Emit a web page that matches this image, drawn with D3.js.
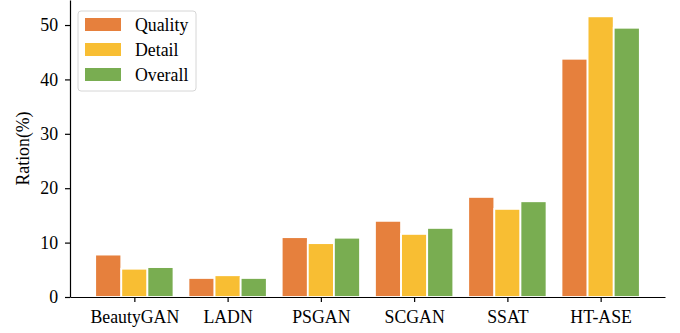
<!DOCTYPE html>
<html><head><meta charset="utf-8">
<script src="https://cdn.jsdelivr.net/npm/d3@7"></script>
<style>body{margin:0;background:#fff}svg{display:block}</style>
</head><body><div id="c"></div>
<script>
const categories = ["BeautyGAN","LADN","PSGAN","SCGAN","SSAT","HT-ASE"];
const seriesNames = ["Quality","Detail","Overall"];
const quality = [7.8, 3.5, 11.0, 14.0, 18.4, 43.8];
const detail  = [5.2, 4.0, 9.9, 11.6, 16.2, 51.6];
const overall = [5.5, 3.5, 10.9, 12.7, 17.6, 49.5];
const yTicks = [0,10,20,30,40,50];
const colors = ["#E6803D","#F8BE33","#79AD51"];

const FONT = "'Liberation Serif', 'Times New Roman', serif";
const FS = 17.8;
const W=680,H=333;
const m={l:70,r:15,t:0,b:36};
const svg=d3.select("#c").append("svg").attr("width",W).attr("height",H).style("font-family",FONT);
const x=d3.scaleLinear().domain([-0.69,5.69]).range([m.l,W-m.r]);
const y=d3.scaleLinear().domain([0,54.6]).range([H-m.b,m.t]);
const series=[quality,detail,overall];
const off=0.28, bw=0.28;
series.forEach((vals,si)=>{
  svg.append("g").selectAll("rect").data(vals).join("rect")
    .attr("x",(d,i)=>x(i+(si-1)*off-bw/2))
    .attr("width",x(bw)-x(0))
    .attr("y",d=>y(d)).attr("height",d=>y(0)-y(d))
    .attr("fill",colors[si]).attr("stroke","#fff").attr("stroke-width",1.8);
});
const xa=svg.append("g").attr("transform",`translate(0,${y(0)})`)
  .call(d3.axisBottom(x).tickValues(d3.range(categories.length)).tickFormat(i=>categories[i]).tickSize(5).tickSizeOuter(0));
const ya=svg.append("g").attr("transform",`translate(${m.l},0)`)
  .call(d3.axisLeft(y).tickValues(yTicks).tickSize(5).tickSizeOuter(0));
[xa,ya].forEach(a=>{a.attr("font-family",null).attr("font-size",null);
  a.selectAll("path,line").attr("stroke","#000").attr("stroke-width",1.2);
  a.selectAll("text").style("font-size",FS+"px").style("font-family",FONT).attr("fill","#000");});
xa.selectAll("text").attr("dy","1.0em");
ya.selectAll("text").attr("dx","-0.22em");
svg.append("text").attr("transform",`translate(28.5,${y(54.6/2)}) rotate(-90)`)
  .attr("text-anchor","middle").style("font-size",FS+"px").style("font-family",FONT).text("Ration(%)");
// legend
const lg=svg.append("g");
lg.append("rect").attr("x",78).attr("y",11).attr("width",118).attr("height",80).attr("rx",3)
  .attr("fill","#fff").attr("fill-opacity",0.8).attr("stroke","#d6d6d6").attr("stroke-width",1);
seriesNames.forEach((n,i)=>{
  lg.append("rect").attr("x",85).attr("y",18+i*25).attr("width",36).attr("height",13).attr("fill",colors[i]);
  lg.append("text").attr("x",135).attr("y",30.5+i*25).style("font-size",FS+"px").style("font-family",FONT).text(n);
});
</script></body></html>
